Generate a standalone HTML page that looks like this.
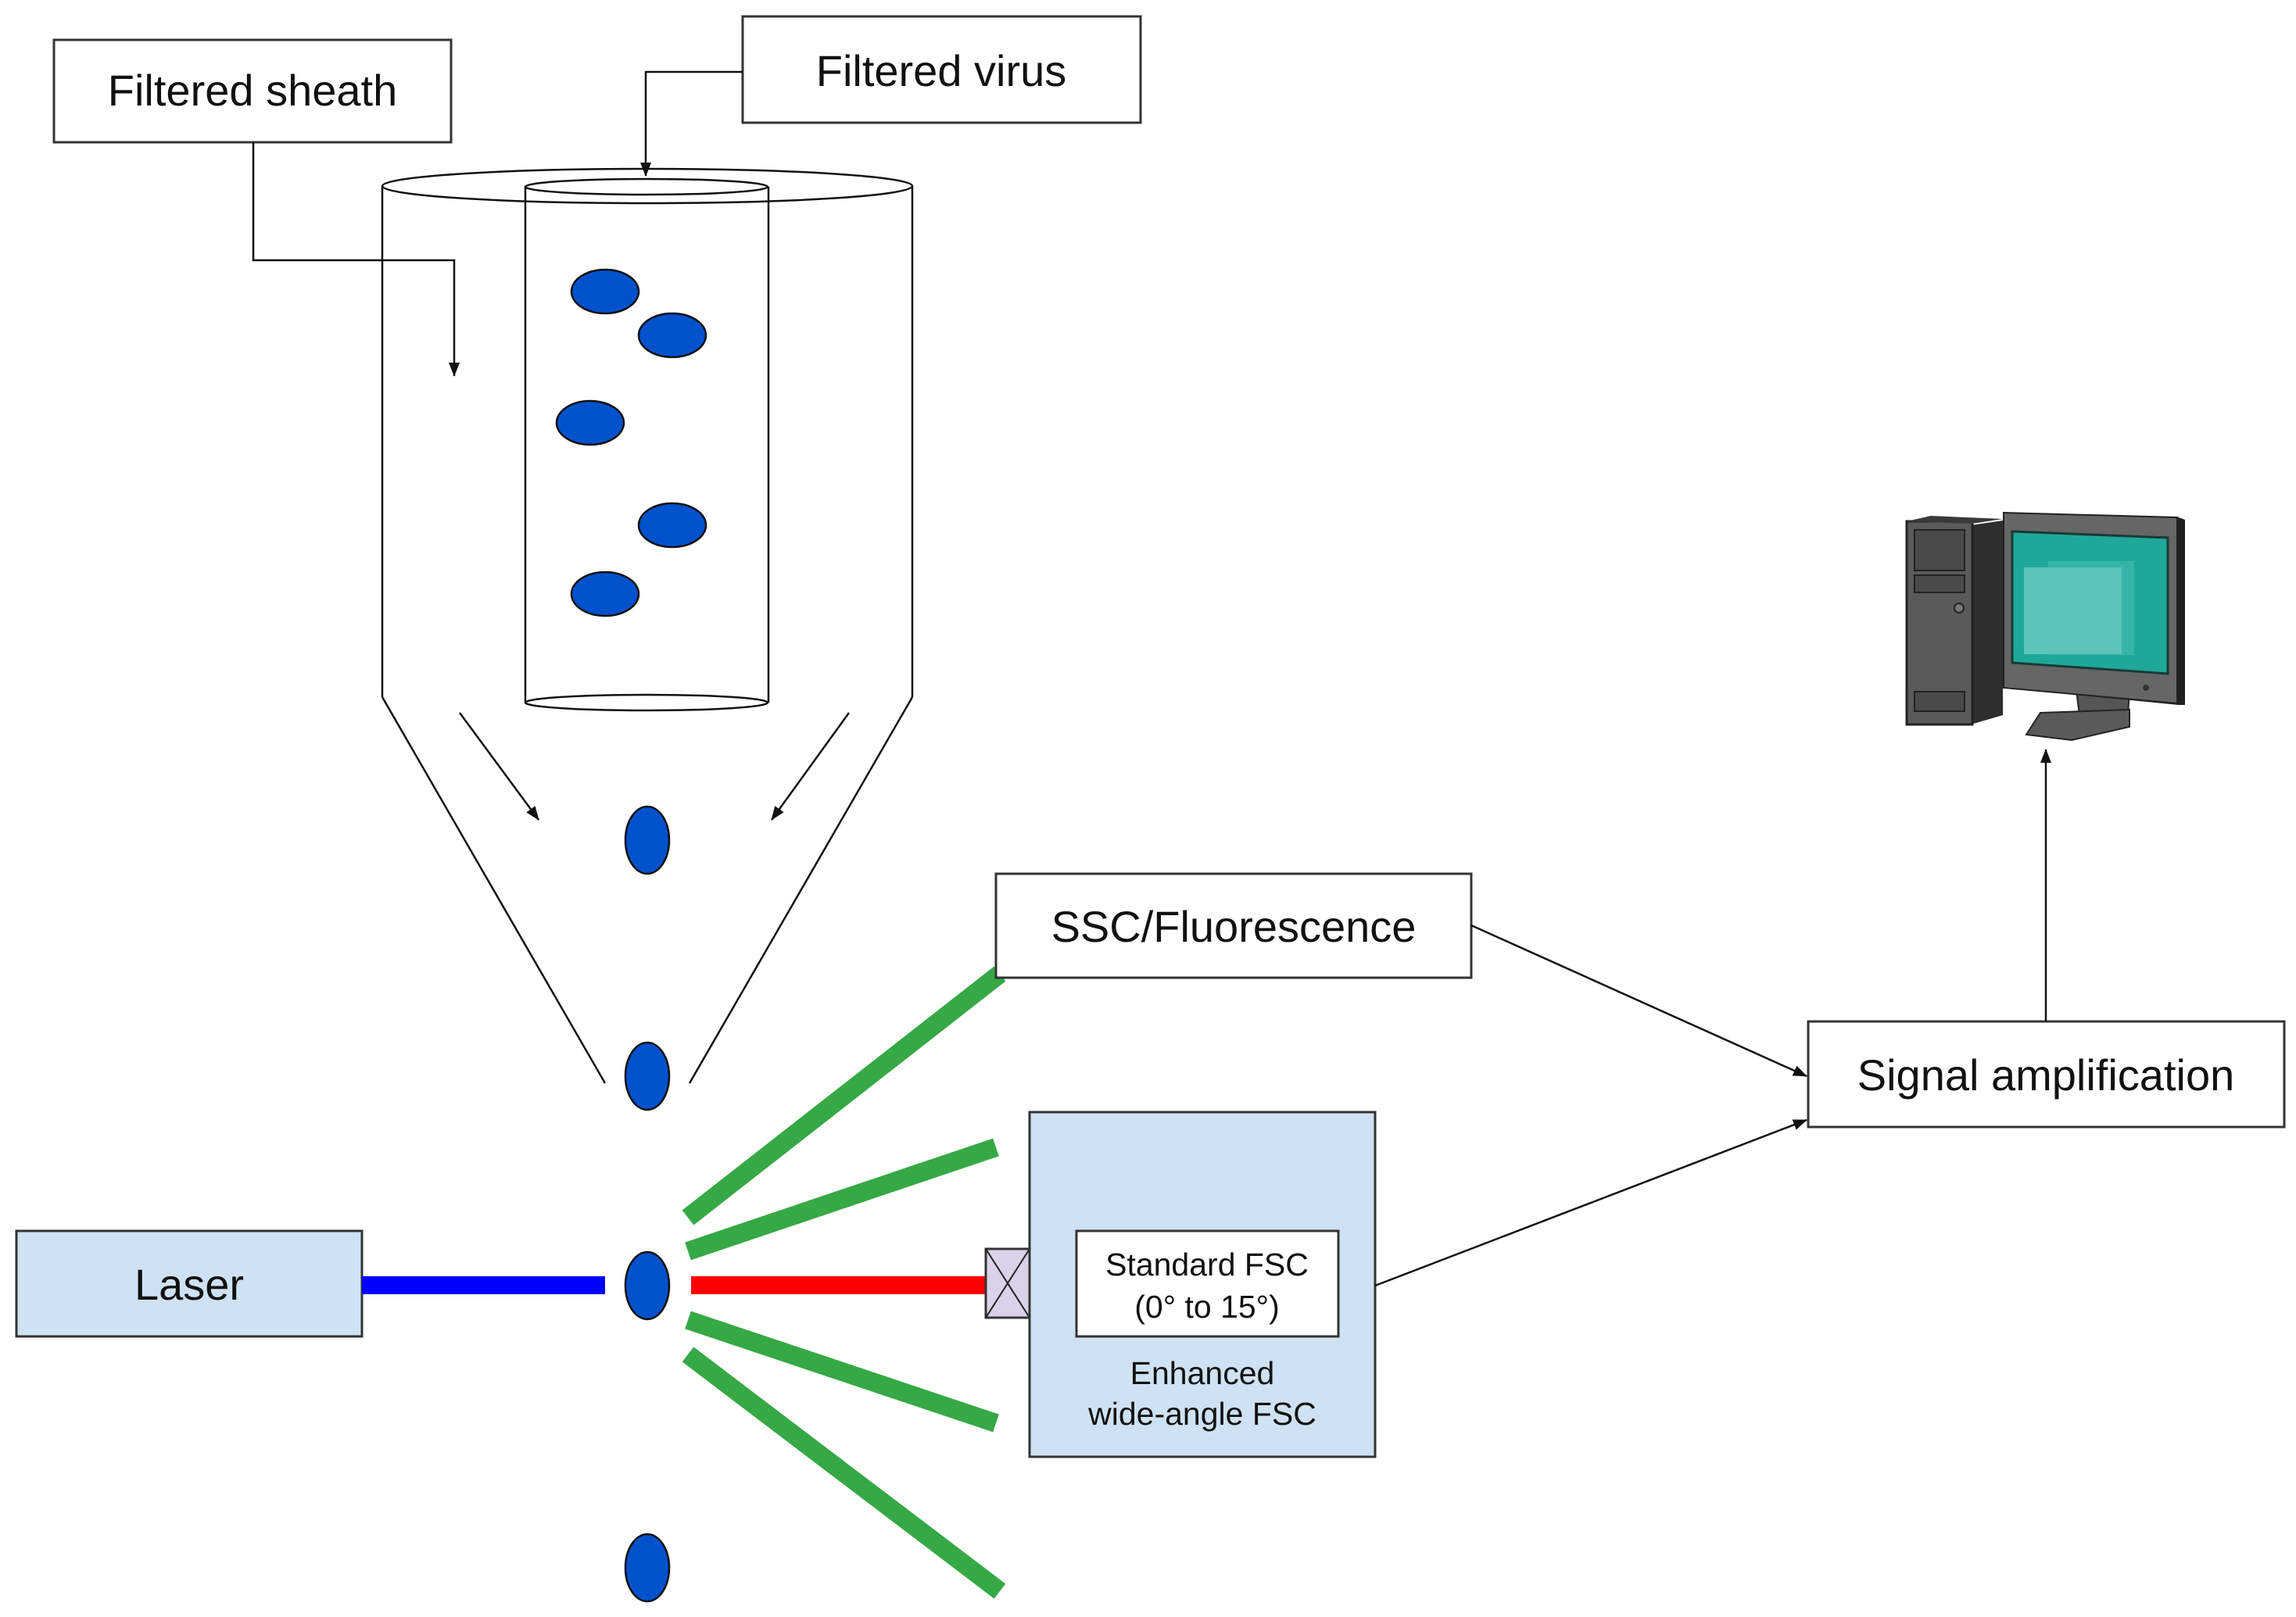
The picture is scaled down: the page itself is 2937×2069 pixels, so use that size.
<!DOCTYPE html>
<html><head><meta charset="utf-8"><style>
html,body{margin:0;padding:0;background:#fff;}
svg{display:block;}
text{font-family:"Liberation Sans",Arial,sans-serif;fill:#111;}
</style></head><body>
<svg width="2937" height="2069" viewBox="0 0 2937 2069" xmlns="http://www.w3.org/2000/svg">
<defs>
<marker id="ah" markerWidth="10" markerHeight="10" refX="9" refY="5" orient="auto" markerUnits="userSpaceOnUse" viewBox="0 0 10 10">
<path d="M0,1 L10,5 L0,9 z" fill="#111"/>
</marker>
<marker id="ah2" markerWidth="18" markerHeight="14" refX="17" refY="7" orient="auto" markerUnits="userSpaceOnUse" viewBox="0 0 18 14">
<path d="M0,0 L18,7 L0,14 z" fill="#111"/>
</marker>
</defs>

<!-- Top boxes -->
<rect x="69" y="51" width="508" height="131" fill="#fff" stroke="#333" stroke-width="3"/>
<text x="323" y="135" font-size="56" text-anchor="middle">Filtered sheath</text>
<rect x="950" y="21" width="509" height="136" fill="#fff" stroke="#333" stroke-width="3"/>
<text x="1204" y="110" font-size="56" text-anchor="middle">Filtered virus</text>

<!-- connectors -->
<polyline points="950,92 826,92 826,225" fill="none" stroke="#111" stroke-width="2.5" marker-end="url(#ah2)"/>
<polyline points="324,182 324,333 581,333 581,481" fill="none" stroke="#111" stroke-width="2.5" marker-end="url(#ah2)"/>

<!-- outer cylinder -->
<ellipse cx="828" cy="238" rx="339" ry="22" fill="none" stroke="#111" stroke-width="2.5"/>
<line x1="489" y1="238" x2="489" y2="892" stroke="#111" stroke-width="2.5"/>
<line x1="1167" y1="238" x2="1167" y2="892" stroke="#111" stroke-width="2.5"/>
<line x1="489" y1="892" x2="774" y2="1386" stroke="#111" stroke-width="2.5"/>
<line x1="1167" y1="892" x2="882" y2="1386" stroke="#111" stroke-width="2.5"/>

<!-- inner cylinder -->
<ellipse cx="827" cy="239" rx="155" ry="10" fill="none" stroke="#111" stroke-width="2.5"/>
<line x1="672" y1="239" x2="672" y2="899" stroke="#111" stroke-width="2.5"/>
<line x1="983" y1="239" x2="983" y2="899" stroke="#111" stroke-width="2.5"/>
<ellipse cx="827" cy="899" rx="155" ry="10" fill="none" stroke="#111" stroke-width="2.5"/>

<!-- funnel arrows -->
<line x1="588" y1="912" x2="689" y2="1049" stroke="#111" stroke-width="2.5" marker-end="url(#ah2)"/>
<line x1="1086" y1="912" x2="987" y2="1049" stroke="#111" stroke-width="2.5" marker-end="url(#ah2)"/>

<!-- virus dots in tube -->
<g fill="#0052cc" stroke="#111" stroke-width="2.5">
<ellipse cx="774" cy="373" rx="43" ry="28"/>
<ellipse cx="860" cy="429" rx="43" ry="28"/>
<ellipse cx="755" cy="541" rx="43" ry="28"/>
<ellipse cx="860" cy="672" rx="43" ry="28"/>
<ellipse cx="774" cy="760" rx="43" ry="28"/>
<ellipse cx="828" cy="1075" rx="28" ry="43"/>
<ellipse cx="828" cy="1377" rx="28" ry="43"/>
<ellipse cx="828" cy="1645" rx="28" ry="43"/>
<ellipse cx="828" cy="2006" rx="28" ry="43"/>
</g>

<!-- green beams -->
<g stroke="#36a845" stroke-width="24">
<line x1="880" y1="1558" x2="1279" y2="1246"/>
<line x1="880" y1="1601" x2="1274" y2="1468"/>
<line x1="880" y1="1689" x2="1274" y2="1821"/>
<line x1="880" y1="1733" x2="1279" y2="2036"/>
</g>

<!-- laser -->
<rect x="21" y="1575" width="442" height="135" fill="#cfe2f3" stroke="#333" stroke-width="3"/>
<text x="242" y="1663" font-size="56" text-anchor="middle">Laser</text>
<rect x="463" y="1633" width="311" height="23" fill="#0000ff"/>
<rect x="884" y="1633" width="377" height="23" fill="#ff0000"/>

<!-- cross box -->
<rect x="1261" y="1598" width="56" height="88" fill="#d9d2e9" stroke="#333" stroke-width="3"/>
<line x1="1261" y1="1598" x2="1317" y2="1686" stroke="#222" stroke-width="2"/>
<line x1="1317" y1="1598" x2="1261" y2="1686" stroke="#222" stroke-width="2"/>

<!-- enhanced box -->
<rect x="1317" y="1423" width="442" height="441" fill="#cfe2f3" stroke="#333" stroke-width="3"/>
<rect x="1377" y="1575" width="335" height="135" fill="#fff" stroke="#333" stroke-width="3"/>
<text x="1544" y="1632" font-size="41" text-anchor="middle">Standard FSC</text>
<text x="1544" y="1686" font-size="41" text-anchor="middle">(0° to 15°)</text>
<text x="1538" y="1771" font-size="41" text-anchor="middle">Enhanced</text>
<text x="1538" y="1823" font-size="41" text-anchor="middle">wide-angle FSC</text>

<!-- SSC box -->
<rect x="1274" y="1118" width="608" height="133" fill="#fff" stroke="#333" stroke-width="3"/>
<text x="1578" y="1205" font-size="56" text-anchor="middle">SSC/Fluorescence</text>

<!-- Signal amplification -->
<rect x="2313" y="1307" width="609" height="135" fill="#fff" stroke="#333" stroke-width="3"/>
<text x="2617" y="1395" font-size="56" text-anchor="middle">Signal amplification</text>

<line x1="1882" y1="1184" x2="2311" y2="1377" stroke="#111" stroke-width="2.5" marker-end="url(#ah2)"/>
<line x1="1759" y1="1645" x2="2311" y2="1433" stroke="#111" stroke-width="2.5" marker-end="url(#ah2)"/>
<line x1="2617" y1="1307" x2="2617" y2="959" stroke="#111" stroke-width="2.5" marker-end="url(#ah2)"/>

<!-- computer -->
<g>
<!-- tower side -->
<polygon points="2521,672 2562,666 2562,915 2521,927" fill="#2e2e2e"/>
<rect x="2439" y="667" width="84" height="260" fill="#5a5a5a" stroke="#222" stroke-width="3"/>
<polygon points="2439,667 2470,660 2562,664 2523,670" fill="#3a3a3a"/>
<rect x="2449" y="678" width="64" height="52" fill="#4a4a4a" stroke="#222" stroke-width="2"/>
<rect x="2449" y="736" width="64" height="22" fill="#4a4a4a" stroke="#222" stroke-width="2"/>
<circle cx="2506" cy="778" r="6" fill="#777" stroke="#222" stroke-width="2"/>
<rect x="2449" y="885" width="64" height="25" fill="#4a4a4a" stroke="#222" stroke-width="2"/>
<!-- stand -->
<polygon points="2656,883 2724,883 2722,915 2660,915" fill="#555" stroke="#222" stroke-width="2"/>
<polygon points="2610,912 2724,908 2724,930 2650,947 2592,940" fill="#5a5a5a" stroke="#222" stroke-width="2"/>
<!-- monitor -->
<polygon points="2563,656 2787,662 2795,665 2795,902 2787,902 2563,880" fill="#1f1f1f"/>
<polygon points="2563,656 2785,662 2785,900 2563,880" fill="#666" stroke="#222" stroke-width="2"/>
<polygon points="2574,680 2773,688 2773,862 2574,848" fill="#1fa89a" stroke="#1a3a36" stroke-width="3"/>
<rect x="2620" y="718" width="110" height="120" fill="#35b5a8"/>
<rect x="2589" y="726" width="125" height="111" fill="#5cc4b9"/>
<circle cx="2745" cy="880" r="4" fill="#333"/>
</g>
</svg>
</body></html>
